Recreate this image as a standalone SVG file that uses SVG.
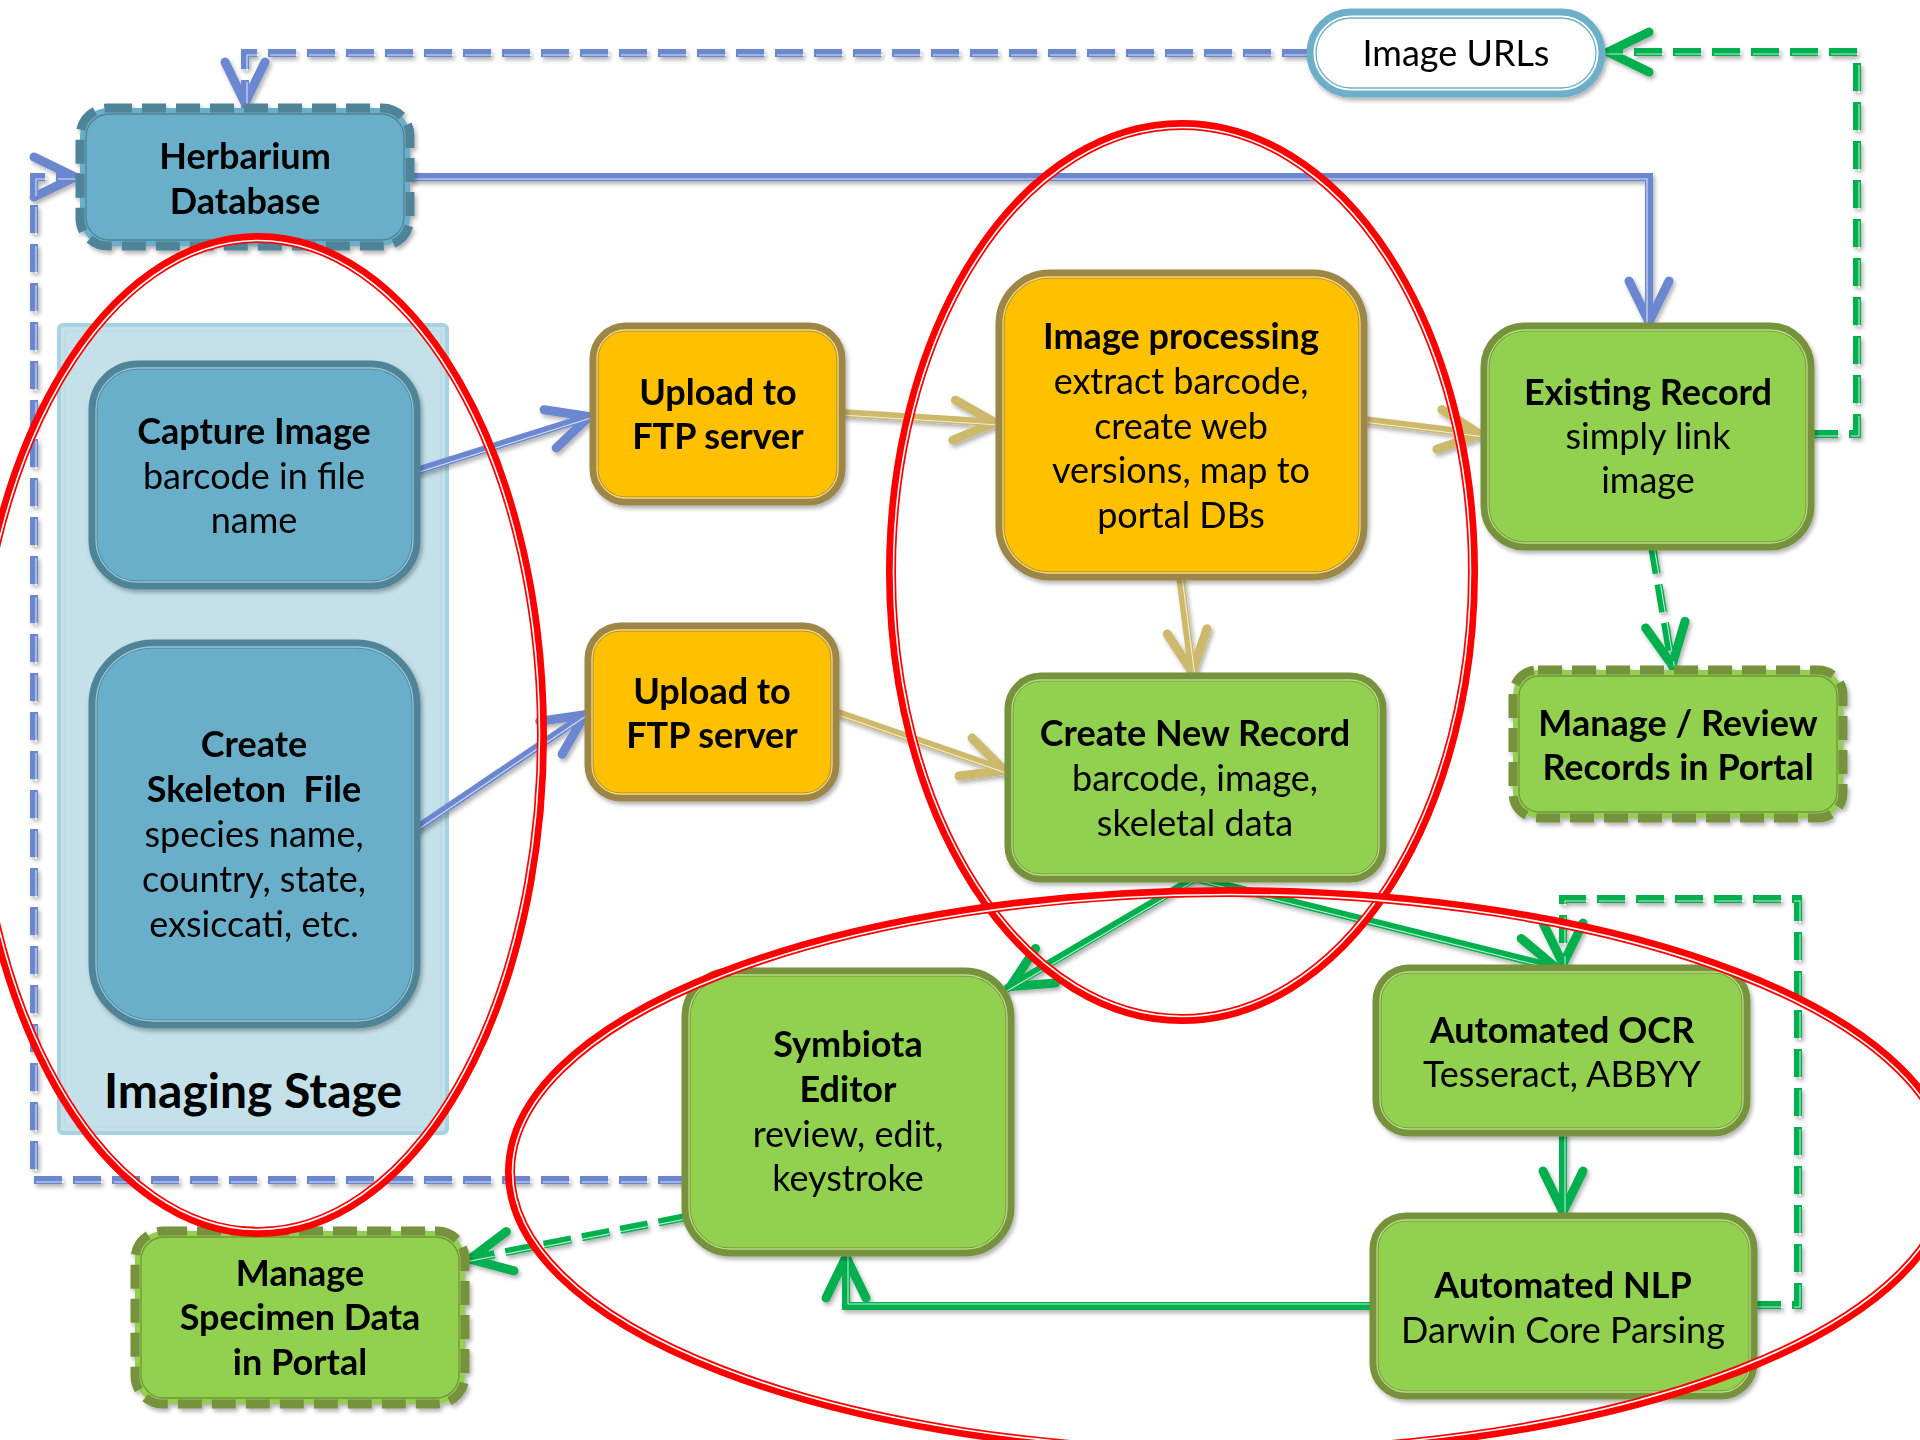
<svg xmlns="http://www.w3.org/2000/svg" xmlns:xlink="http://www.w3.org/1999/xlink" width="1920" height="1440" viewBox="0 0 1920 1440">
<style>
.t{font-family:Lato,"Liberation Sans",sans-serif;font-size:36px;fill:#000;text-anchor:middle}
.b{font-weight:700}
.nb{fill:#6BAFC9;stroke:#4F8398;stroke-width:9}
.nbl{fill:none;stroke:#93C6D8;stroke-width:1.3}
.no{fill:#FFC000;stroke:#9C874A;stroke-width:9}
.nol{fill:none;stroke:#FFD966;stroke-width:1.3}
.ng{fill:#92D050;stroke:#77923C;stroke-width:9}
.ngl{fill:none;stroke:#B5E080;stroke-width:1.3}
.dsh{stroke-dasharray:24 10}
.ind{fill:none;stroke-width:1.3}
.cb{fill:none;stroke:#6A87CF;stroke-width:8}
.ct{fill:none;stroke:#CDB96C;stroke-width:8}
.cg{fill:none;stroke:#00B050;stroke-width:8}
.hl{fill:none;stroke:#FFFFFF;stroke-width:1.1;stroke-opacity:0.75}
.cd{stroke-dasharray:28 11}
.red{fill:none;stroke:#FF0000;stroke-width:10}
.redw{fill:none;stroke:#FFFFFF;stroke-width:1.6}
</style>
<defs>
<filter id="sh" x="-10%" y="-10%" width="130%" height="130%">
<feDropShadow dx="2" dy="3" stdDeviation="2" flood-color="#000" flood-opacity="0.3"/>
</filter>
<marker id="mb" viewBox="-60 -30 70 60" refX="0" refY="0" markerWidth="70" markerHeight="60" markerUnits="userSpaceOnUse" orient="auto">
<path d="M-46,-20 L-5,0 L-46,20" fill="none" stroke="#6A87CF" stroke-width="9" stroke-linecap="round" stroke-miterlimit="10"/>
</marker>
<marker id="mt" viewBox="-60 -30 70 60" refX="0" refY="0" markerWidth="70" markerHeight="60" markerUnits="userSpaceOnUse" orient="auto">
<path d="M-46,-20 L-5,0 L-46,20" fill="none" stroke="#CDB96C" stroke-width="9" stroke-linecap="round" stroke-miterlimit="10"/>
</marker>
<marker id="mg" viewBox="-60 -30 70 60" refX="0" refY="0" markerWidth="70" markerHeight="60" markerUnits="userSpaceOnUse" orient="auto">
<path d="M-46,-20 L-5,0 L-46,20" fill="none" stroke="#00B050" stroke-width="9" stroke-linecap="round" stroke-miterlimit="10"/>
</marker>
<path id="pb1" d="M1310,53 H245 V108"/>
<path id="pb2" d="M686,1180 H34 V177 H80"/>
<path id="pb3" d="M410,177 H1649 V327"/>
<path id="pb4" d="M413,472 L594,415"/>
<path id="pb5" d="M413,831 L589,712"/>
<path id="pt1" d="M841,413 L1000,423"/>
<path id="pt2" d="M1363,420 L1485,435"/>
<path id="pt3" d="M1180,576 L1193,677"/>
<path id="pt4" d="M835,712 L1009,772"/>
<path id="pg1" d="M1810,434 H1857 V52 H1603"/>
<path id="pg2" d="M1652,546 L1673,670"/>
<path id="pg3" d="M1195,878 L1006,989"/>
<path id="pg4" d="M1195,878 L1561,969"/>
<path id="pg5" d="M1753,1305 H1798 V899 H1563 V969"/>
<path id="pg6" d="M1563,1132 V1217"/>
<path id="pg7" d="M1374,1306 H846 V1252"/>
<path id="pg8" d="M686,1217 L465,1260"/>
</defs>
<rect width="1920" height="1440" fill="#FFFFFF"/>

<g id="imaging-stage">
<rect x="59" y="325" width="388" height="808" rx="4" fill="#C4E1E9" stroke="#A7D2E1" stroke-width="4"/>
<rect x="65" y="331" width="376" height="796" rx="3" fill="none" stroke="#B5DAE6" stroke-width="1.2"/>
<text class="t b" x="253" y="1108" style="font-size:48px">Imaging Stage</text>
</g>

<g id="connectors" filter="url(#sh)">
<use xlink:href="#pb1" class="cb cd" marker-end="url(#mb)"/>
<use xlink:href="#pb1" class="hl cd" transform="translate(2,2)"/>
<use xlink:href="#pb2" class="cb cd" marker-end="url(#mb)"/>
<use xlink:href="#pb2" class="hl cd" transform="translate(2,2)"/>
<use xlink:href="#pb3" class="cb" marker-end="url(#mb)"/>
<use xlink:href="#pb3" class="hl" transform="translate(-2,2)"/>
<use xlink:href="#pb4" class="cb" marker-end="url(#mb)"/>
<use xlink:href="#pb4" class="hl" transform="translate(0,2)"/>
<use xlink:href="#pb5" class="cb" marker-end="url(#mb)"/>
<use xlink:href="#pb5" class="hl" transform="translate(0,2)"/>
<use xlink:href="#pt1" class="ct" marker-end="url(#mt)"/>
<use xlink:href="#pt1" class="hl" transform="translate(0,2)"/>
<use xlink:href="#pt2" class="ct" marker-end="url(#mt)"/>
<use xlink:href="#pt2" class="hl" transform="translate(0,2)"/>
<use xlink:href="#pt3" class="ct" marker-end="url(#mt)"/>
<use xlink:href="#pt3" class="hl" transform="translate(2,0)"/>
<use xlink:href="#pt4" class="ct" marker-end="url(#mt)"/>
<use xlink:href="#pt4" class="hl" transform="translate(0,2)"/>
<use xlink:href="#pg1" class="cg cd" marker-end="url(#mg)"/>
<use xlink:href="#pg1" class="hl cd" transform="translate(2,2)"/>
<use xlink:href="#pg2" class="cg cd" marker-end="url(#mg)"/>
<use xlink:href="#pg2" class="hl cd" transform="translate(2,0)"/>
<use xlink:href="#pg3" class="cg" marker-end="url(#mg)"/>
<use xlink:href="#pg3" class="hl" transform="translate(1,2)"/>
<use xlink:href="#pg4" class="cg" marker-end="url(#mg)"/>
<use xlink:href="#pg4" class="hl" transform="translate(0,2)"/>
<use xlink:href="#pg5" class="cg cd" marker-end="url(#mg)"/>
<use xlink:href="#pg5" class="hl cd" transform="translate(2,2)"/>
<use xlink:href="#pg6" class="cg" marker-end="url(#mg)"/>
<use xlink:href="#pg6" class="hl" transform="translate(2,0)"/>
<use xlink:href="#pg7" class="cg" marker-end="url(#mg)"/>
<use xlink:href="#pg7" class="hl" transform="translate(2,-2)"/>
<use xlink:href="#pg8" class="cg cd" marker-end="url(#mg)"/>
<use xlink:href="#pg8" class="hl cd" transform="translate(0,2)"/>
</g>

<g id="image-urls" filter="url(#sh)">
<rect x="1310" y="12" width="292" height="82" rx="41" fill="#FFFFFF" stroke="#6DAFC9" stroke-width="7"/>
<rect x="1316" y="18" width="280" height="70" rx="35" fill="none" stroke="#6DAFC9" stroke-width="1.3"/>
<text class="t" x="1456" y="66">Image URLs</text>
</g>

<g id="herbarium-database" filter="url(#sh)">
<rect x="80" y="108" width="330" height="138" rx="28" class="nb dsh"/>
<rect x="86" y="114" width="318" height="126" rx="23" class="ind" stroke="#4F8398"/>
<text class="t b" x="245" y="169">Herbarium</text>
<text class="t b" x="245" y="214">Database</text>
</g>

<g id="capture-image" filter="url(#sh)">
<rect x="93" y="365" width="323" height="220" rx="45" class="nb"/>
<rect x="96" y="368" width="317" height="214" rx="42" class="nbl"/>
<text class="t b" x="254" y="444">Capture Image</text>
<text class="t" x="254" y="489">barcode in file</text>
<text class="t" x="254" y="533">name</text>
</g>

<g id="create-skeleton-file" filter="url(#sh)">
<rect x="93" y="644" width="323" height="380" rx="60" class="nb"/>
<rect x="96" y="647" width="317" height="374" rx="57" class="nbl"/>
<text class="t b" x="254" y="757">Create</text>
<text class="t b" x="254" y="802" xml:space="preserve">Skeleton  File</text>
<text class="t" x="254" y="847">species name,</text>
<text class="t" x="254" y="892">country, state,</text>
<text class="t" x="254" y="937">exsiccati, etc.</text>
</g>

<g id="upload-ftp-1" filter="url(#sh)">
<rect x="594" y="327" width="247" height="174" rx="32" class="no"/>
<rect x="597" y="330" width="241" height="168" rx="29" class="nol"/>
<text class="t b" x="718" y="405">Upload to</text>
<text class="t b" x="718" y="449">FTP server</text>
</g>

<g id="upload-ftp-2" filter="url(#sh)">
<rect x="589" y="627" width="246" height="170" rx="32" class="no"/>
<rect x="592" y="630" width="240" height="164" rx="29" class="nol"/>
<text class="t b" x="712" y="704">Upload to</text>
<text class="t b" x="712" y="748">FTP server</text>
</g>

<g id="image-processing" filter="url(#sh)">
<rect x="1000" y="274" width="363" height="302" rx="50" class="no"/>
<rect x="1003" y="277" width="357" height="296" rx="47" class="nol"/>
<text class="t b" x="1181" y="349">Image processing</text>
<text class="t" x="1181" y="394">extract barcode,</text>
<text class="t" x="1181" y="439">create web</text>
<text class="t" x="1181" y="483">versions, map to</text>
<text class="t" x="1181" y="528">portal DBs</text>
</g>

<g id="existing-record" filter="url(#sh)">
<rect x="1485" y="327" width="325" height="219" rx="40" class="ng"/>
<rect x="1488" y="330" width="319" height="213" rx="37" class="ngl"/>
<text class="t b" x="1648" y="405">Existing Record</text>
<text class="t" x="1648" y="449">simply link</text>
<text class="t" x="1648" y="493">image</text>
</g>

<g id="manage-review" filter="url(#sh)">
<rect x="1513" y="670" width="330" height="148" rx="25" class="ng dsh"/>
<rect x="1519" y="676" width="318" height="136" rx="20" class="ind" stroke="#77923C"/>
<text class="t b" x="1678" y="736">Manage / Review</text>
<text class="t b" x="1678" y="780">Records in Portal</text>
</g>

<g id="create-new-record" filter="url(#sh)">
<rect x="1009" y="677" width="373" height="201" rx="32" class="ng"/>
<rect x="1012" y="680" width="367" height="195" rx="29" class="ngl"/>
<text class="t b" x="1195" y="746">Create New Record</text>
<text class="t" x="1195" y="791">barcode, image,</text>
<text class="t" x="1195" y="836">skeletal data</text>
</g>

<g id="symbiota-editor" filter="url(#sh)">
<rect x="686" y="972" width="324" height="280" rx="45" class="ng"/>
<rect x="689" y="975" width="318" height="274" rx="42" class="ngl"/>
<text class="t b" x="848" y="1057">Symbiota</text>
<text class="t b" x="848" y="1102">Editor</text>
<text class="t" x="848" y="1147">review, edit,</text>
<text class="t" x="848" y="1191">keystroke</text>
</g>

<g id="automated-ocr" filter="url(#sh)">
<rect x="1377" y="969" width="369" height="163" rx="32" class="ng"/>
<rect x="1380" y="972" width="363" height="157" rx="29" class="ngl"/>
<text class="t b" x="1562" y="1043">Automated OCR</text>
<text class="t" x="1562" y="1087">Tesseract, ABBYY</text>
</g>

<g id="automated-nlp" filter="url(#sh)">
<rect x="1374" y="1217" width="379" height="178" rx="32" class="ng"/>
<rect x="1377" y="1220" width="373" height="172" rx="29" class="ngl"/>
<text class="t b" x="1563" y="1298">Automated NLP</text>
<text class="t" x="1563" y="1343">Darwin Core Parsing</text>
</g>

<g id="manage-specimen-data" filter="url(#sh)">
<rect x="135" y="1231" width="330" height="173" rx="28" class="ng dsh"/>
<rect x="141" y="1237" width="318" height="161" rx="23" class="ind" stroke="#77923C"/>
<text class="t b" x="300" y="1286">Manage</text>
<text class="t b" x="300" y="1330">Specimen Data</text>
<text class="t b" x="300" y="1375">in Portal</text>
</g>

<g id="red-ellipses">
<ellipse cx="258" cy="735" rx="284" ry="497" class="red"/>
<ellipse cx="258" cy="735" rx="281.5" ry="494.5" class="redw"/>
<ellipse cx="1182" cy="572" rx="291" ry="447" class="red"/>
<ellipse cx="1182" cy="572" rx="288.5" ry="444.5" class="redw"/>
<ellipse cx="1230" cy="1172" rx="720" ry="280" class="red"/>
<ellipse cx="1230" cy="1172" rx="717.5" ry="277.5" class="redw"/>
</g>
</svg>
